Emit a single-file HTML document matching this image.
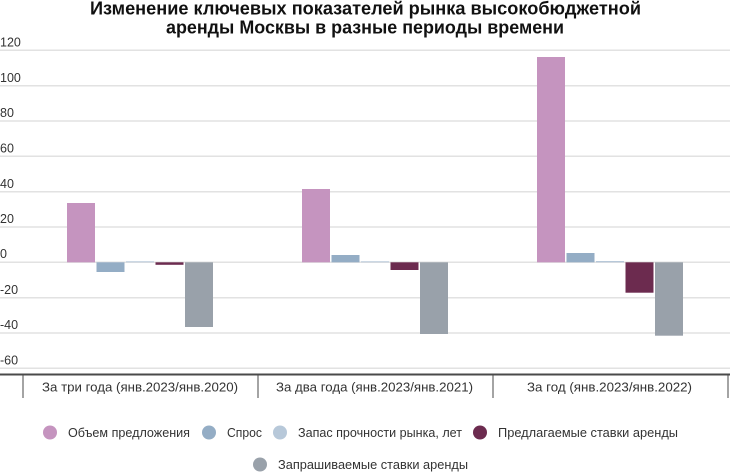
<!DOCTYPE html>
<html>
<head>
<meta charset="utf-8">
<style>
  html, body { margin:0; padding:0; background:#ffffff; }
  svg { display:block; }
  text { font-family: "Liberation Sans", "Noto Sans CJK SC", sans-serif; }
</style>
</head>
<body>
<svg width="730" height="473" viewBox="0 0 730 473" xmlns="http://www.w3.org/2000/svg">
  <rect width="730" height="473" fill="#ffffff"/>

  <!-- Title -->
  <text x="90" y="14.5" font-size="18" font-weight="bold" fill="#111" textLength="551" lengthAdjust="spacingAndGlyphs">Изменение ключевых показателей рынка высокобюджетной</text>
  <text x="166" y="33.5" font-size="18" font-weight="bold" fill="#111" textLength="398" lengthAdjust="spacingAndGlyphs">аренды Москвы в разные периоды времени</text>

  <!-- Gridlines -->
  <g stroke="#e2e2e2" stroke-width="1.5">
    <line x1="0" x2="730" y1="50.3" y2="50.3"/>
    <line x1="0" x2="730" y1="85.7" y2="85.7"/>
    <line x1="0" x2="730" y1="121" y2="121"/>
    <line x1="0" x2="730" y1="156.3" y2="156.3"/>
    <line x1="0" x2="730" y1="191.7" y2="191.7"/>
    <line x1="0" x2="730" y1="227" y2="227"/>
    <line x1="0" x2="730" y1="262.3" y2="262.3"/>
    <line x1="0" x2="730" y1="297.7" y2="297.7"/>
    <line x1="0" x2="730" y1="333" y2="333"/>
    <line x1="0" x2="730" y1="368.3" y2="368.3"/>
  </g>

  <!-- Y labels -->
  <g font-size="12.5" fill="#333">
    <text x="0" y="46.5">120</text>
    <text x="0" y="82">100</text>
    <text x="0" y="117">80</text>
    <text x="0" y="152.5">60</text>
    <text x="0" y="188">40</text>
    <text x="0" y="223">20</text>
    <text x="0" y="258">0</text>
    <text x="0" y="294">-20</text>
    <text x="0" y="329">-40</text>
    <text x="0" y="364.5">-60</text>
  </g>

  <!-- Bars group 1 -->
  <rect x="67" y="203" width="28" height="59.3" fill="#c594bf"/>
  <rect x="96.5" y="262.3" width="28" height="9.7" fill="#94adc5"/>
  <rect x="126" y="261.3" width="28" height="1" fill="#b7c8d9"/>
  <rect x="155.5" y="262.3" width="28" height="2.5" fill="#6c2b4f"/>
  <rect x="185" y="262.3" width="28" height="64.7" fill="#99a1aa"/>

  <!-- Bars group 2 -->
  <rect x="302" y="189" width="28" height="73.3" fill="#c594bf"/>
  <rect x="331.5" y="255" width="28" height="7.3" fill="#94adc5"/>
  <rect x="361" y="261.3" width="28" height="1" fill="#b7c8d9"/>
  <rect x="390.5" y="262.3" width="28" height="7.7" fill="#6c2b4f"/>
  <rect x="420" y="262.3" width="28" height="71.7" fill="#99a1aa"/>

  <!-- Bars group 3 -->
  <rect x="537" y="57" width="28" height="205.3" fill="#c594bf"/>
  <rect x="566.5" y="253" width="28" height="9.3" fill="#94adc5"/>
  <rect x="596" y="261" width="28" height="1.3" fill="#b7c8d9"/>
  <rect x="625.5" y="262.3" width="28" height="30.4" fill="#6c2b4f"/>
  <rect x="655" y="262.3" width="28" height="73.4" fill="#99a1aa"/>

  <!-- Axis line and category separators -->
  <line x1="0" x2="730" y1="374.5" y2="374.5" stroke="#4a4a4a" stroke-width="2"/>
  <g stroke="#4a4a4a" stroke-width="1">
    <line x1="23" x2="23" y1="374" y2="398"/>
    <line x1="258" x2="258" y1="374" y2="398"/>
    <line x1="493" x2="493" y1="374" y2="398"/>
    <line x1="728" x2="728" y1="374" y2="398"/>
  </g>

  <!-- Category labels -->
  <g font-size="13" fill="#333">
    <text x="42" y="391.5" textLength="196" lengthAdjust="spacingAndGlyphs">За три года (янв.2023/янв.2020)</text>
    <text x="276" y="391.5" textLength="197" lengthAdjust="spacingAndGlyphs">За два года (янв.2023/янв.2021)</text>
    <text x="527" y="391.5" textLength="165" lengthAdjust="spacingAndGlyphs">За год (янв.2023/янв.2022)</text>
  </g>

  <!-- Legend -->
  <circle cx="50" cy="432.5" r="7" fill="#c594bf"/>
  <circle cx="209" cy="432.5" r="7" fill="#94adc5"/>
  <circle cx="280" cy="432.5" r="7" fill="#b7c8d9"/>
  <circle cx="480" cy="432.5" r="7" fill="#6c2b4f"/>
  <circle cx="260" cy="464.5" r="7" fill="#99a1aa"/>
  <g font-size="13" fill="#333">
    <text x="68" y="437" textLength="122" lengthAdjust="spacingAndGlyphs">Объем предложения</text>
    <text x="227" y="437" textLength="35" lengthAdjust="spacingAndGlyphs">Спрос</text>
    <text x="298" y="437" textLength="164" lengthAdjust="spacingAndGlyphs">Запас прочности рынка, лет</text>
    <text x="498" y="437" textLength="180" lengthAdjust="spacingAndGlyphs">Предлагаемые ставки аренды</text>
    <text x="278" y="469" textLength="190" lengthAdjust="spacingAndGlyphs">Запрашиваемые ставки аренды</text>
  </g>
</svg>
</body>
</html>
